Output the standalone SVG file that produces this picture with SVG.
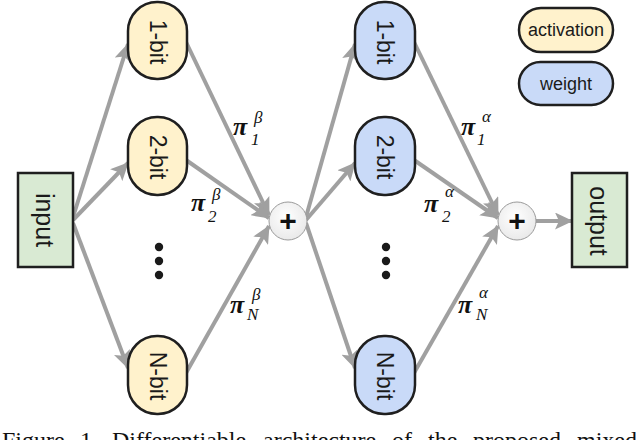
<svg xmlns="http://www.w3.org/2000/svg" width="640" height="440" viewBox="0 0 640 440">
<style>
.box{stroke:#1f1f1f;stroke-width:2.5}
.act{fill:#fff2cc}
.wt{fill:#c9daf8}
.io{fill:#d9ead3}
.lbl{font-family:"Liberation Sans",Arial,sans-serif;fill:#1a1a1a}
.rot{font-size:23px;text-anchor:middle;dominant-baseline:central}
.leg{font-size:18px;text-anchor:middle}
.pi{font-family:"Liberation Serif","DejaVu Serif",serif;font-style:italic;font-weight:bold;font-size:26px;fill:#111}
.sc{font-family:"Liberation Serif","DejaVu Serif",serif;font-style:italic;font-size:17px;fill:#111}
.conn line{stroke:#a0a0a0;stroke-width:4;marker-end:url(#ah)}
.plus circle{fill:url(#pg);stroke:#9a9a9a;stroke-width:1}
.plus text{font-family:"Liberation Sans",Arial,sans-serif;font-size:30px;font-weight:bold;text-anchor:middle;fill:#111}
.dot{fill:#1a1a1a}
.cap{font-family:"Liberation Serif","Times New Roman",serif;font-size:24px;fill:#111}
</style>
<defs>
<marker id="ah" markerUnits="userSpaceOnUse" markerWidth="19" markerHeight="17" refX="17" refY="8.5" orient="auto">
<path d="M0,0 L18,8.5 L0,17 L4,8.5 Z" fill="#a0a0a0"/>
</marker>
<radialGradient id="pg" cx="0.45" cy="0.4" r="0.7">
<stop offset="0" stop-color="#ffffff"/>
<stop offset="1" stop-color="#e6e6e6"/>
</radialGradient>
</defs>

<g id="connectors" class="conn">
<line x1="73" y1="217" x2="128" y2="44"/>
<line x1="73" y1="220" x2="128" y2="163"/>
<line x1="73" y1="223" x2="128" y2="368"/>
<line x1="186" y1="42" x2="269" y2="215"/>
<line x1="186" y1="160" x2="269" y2="218"/>
<line x1="186" y1="373" x2="269" y2="226"/>
<line x1="306" y1="217" x2="355" y2="44"/>
<line x1="306" y1="220" x2="355" y2="163"/>
<line x1="306" y1="223" x2="355" y2="368"/>
<line x1="414" y1="42" x2="498" y2="215"/>
<line x1="414" y1="160" x2="498" y2="218"/>
<line x1="414" y1="373" x2="498" y2="226"/>
<line x1="536" y1="221" x2="572" y2="221"/>
</g>

<g id="input">
<rect class="box io" x="18" y="173" width="55" height="94"/>
<text class="lbl rot" style="font-size:25px" transform="translate(45,220) rotate(90)">input</text>
</g>
<g id="output">
<rect class="box io" x="572" y="173" width="55" height="94"/>
<text class="lbl rot" style="font-size:25px" transform="translate(599,221) rotate(90)">output</text>
</g>

<g id="a1">
<rect class="box act" x="128" y="2" width="59" height="77" rx="29"/>
<text class="lbl rot" transform="translate(158,42) rotate(90)">1-bit</text>
</g>
<g id="a2">
<rect class="box act" x="128" y="117" width="59" height="78" rx="29"/>
<text class="lbl rot" transform="translate(158,157) rotate(90)">2-bit</text>
</g>
<g id="aN">
<rect class="box act" x="128" y="336" width="59" height="78" rx="29"/>
<text class="lbl rot" transform="translate(158,376) rotate(90)">N-bit</text>
</g>
<g id="w1">
<rect class="box wt" x="355" y="2" width="60" height="77" rx="29"/>
<text class="lbl rot" transform="translate(385,42) rotate(90)">1-bit</text>
</g>
<g id="w2">
<rect class="box wt" x="355" y="117" width="60" height="78" rx="29"/>
<text class="lbl rot" transform="translate(385,157) rotate(90)">2-bit</text>
</g>
<g id="wN">
<rect class="box wt" x="355" y="336" width="60" height="78" rx="29"/>
<text class="lbl rot" transform="translate(385,376) rotate(90)">N-bit</text>
</g>

<g id="dots1">
<circle class="dot" cx="159" cy="247" r="4.2"/>
<circle class="dot" cx="159" cy="261" r="4.2"/>
<circle class="dot" cx="159" cy="275" r="4.2"/>
</g>
<g id="dots2">
<circle class="dot" cx="386" cy="247" r="4.2"/>
<circle class="dot" cx="386" cy="261" r="4.2"/>
<circle class="dot" cx="386" cy="275" r="4.2"/>
</g>

<g id="sum1" class="plus">
<circle cx="288" cy="221" r="19"/>
<text x="288" y="231">+</text>
</g>
<g id="sum2" class="plus">
<circle cx="517" cy="221" r="19"/>
<text x="517" y="231">+</text>
</g>

<g id="legend-activation">
<rect class="box act" x="519" y="8" width="94" height="44" rx="22"/>
<text class="lbl leg" x="566" y="36">activation</text>
</g>
<g id="legend-weight">
<rect class="box wt" x="519" y="62" width="94" height="43" rx="21.5"/>
<text class="lbl leg" x="566" y="90">weight</text>
</g>

<g id="labels">
<text class="pi" x="233" y="135">π</text><text class="sc" x="254" y="123">β</text><text class="sc" x="251" y="145">1</text>
<text class="pi" x="191" y="211">π</text><text class="sc" x="212" y="200">β</text><text class="sc" x="208" y="222">2</text>
<text class="pi" x="230" y="313">π</text><text class="sc" x="252" y="300">β</text><text class="sc" x="247" y="320">N</text>
<text class="pi" x="461" y="135">π</text><text class="sc" x="482" y="122">α</text><text class="sc" x="477" y="145">1</text>
<text class="pi" x="424" y="212">π</text><text class="sc" x="445" y="197">α</text><text class="sc" x="442" y="222">2</text>
<text class="pi" x="458" y="313">π</text><text class="sc" x="479" y="298">α</text><text class="sc" x="476" y="320">N</text>
</g>

<text class="cap" y="448"><tspan x="2">Figure</tspan><tspan x="80">1.</tspan><tspan x="112">Differentiable</tspan><tspan x="263">architecture</tspan><tspan x="392">of</tspan><tspan x="428">the</tspan><tspan x="473">proposed</tspan><tspan x="577">mixed</tspan></text>
</svg>
